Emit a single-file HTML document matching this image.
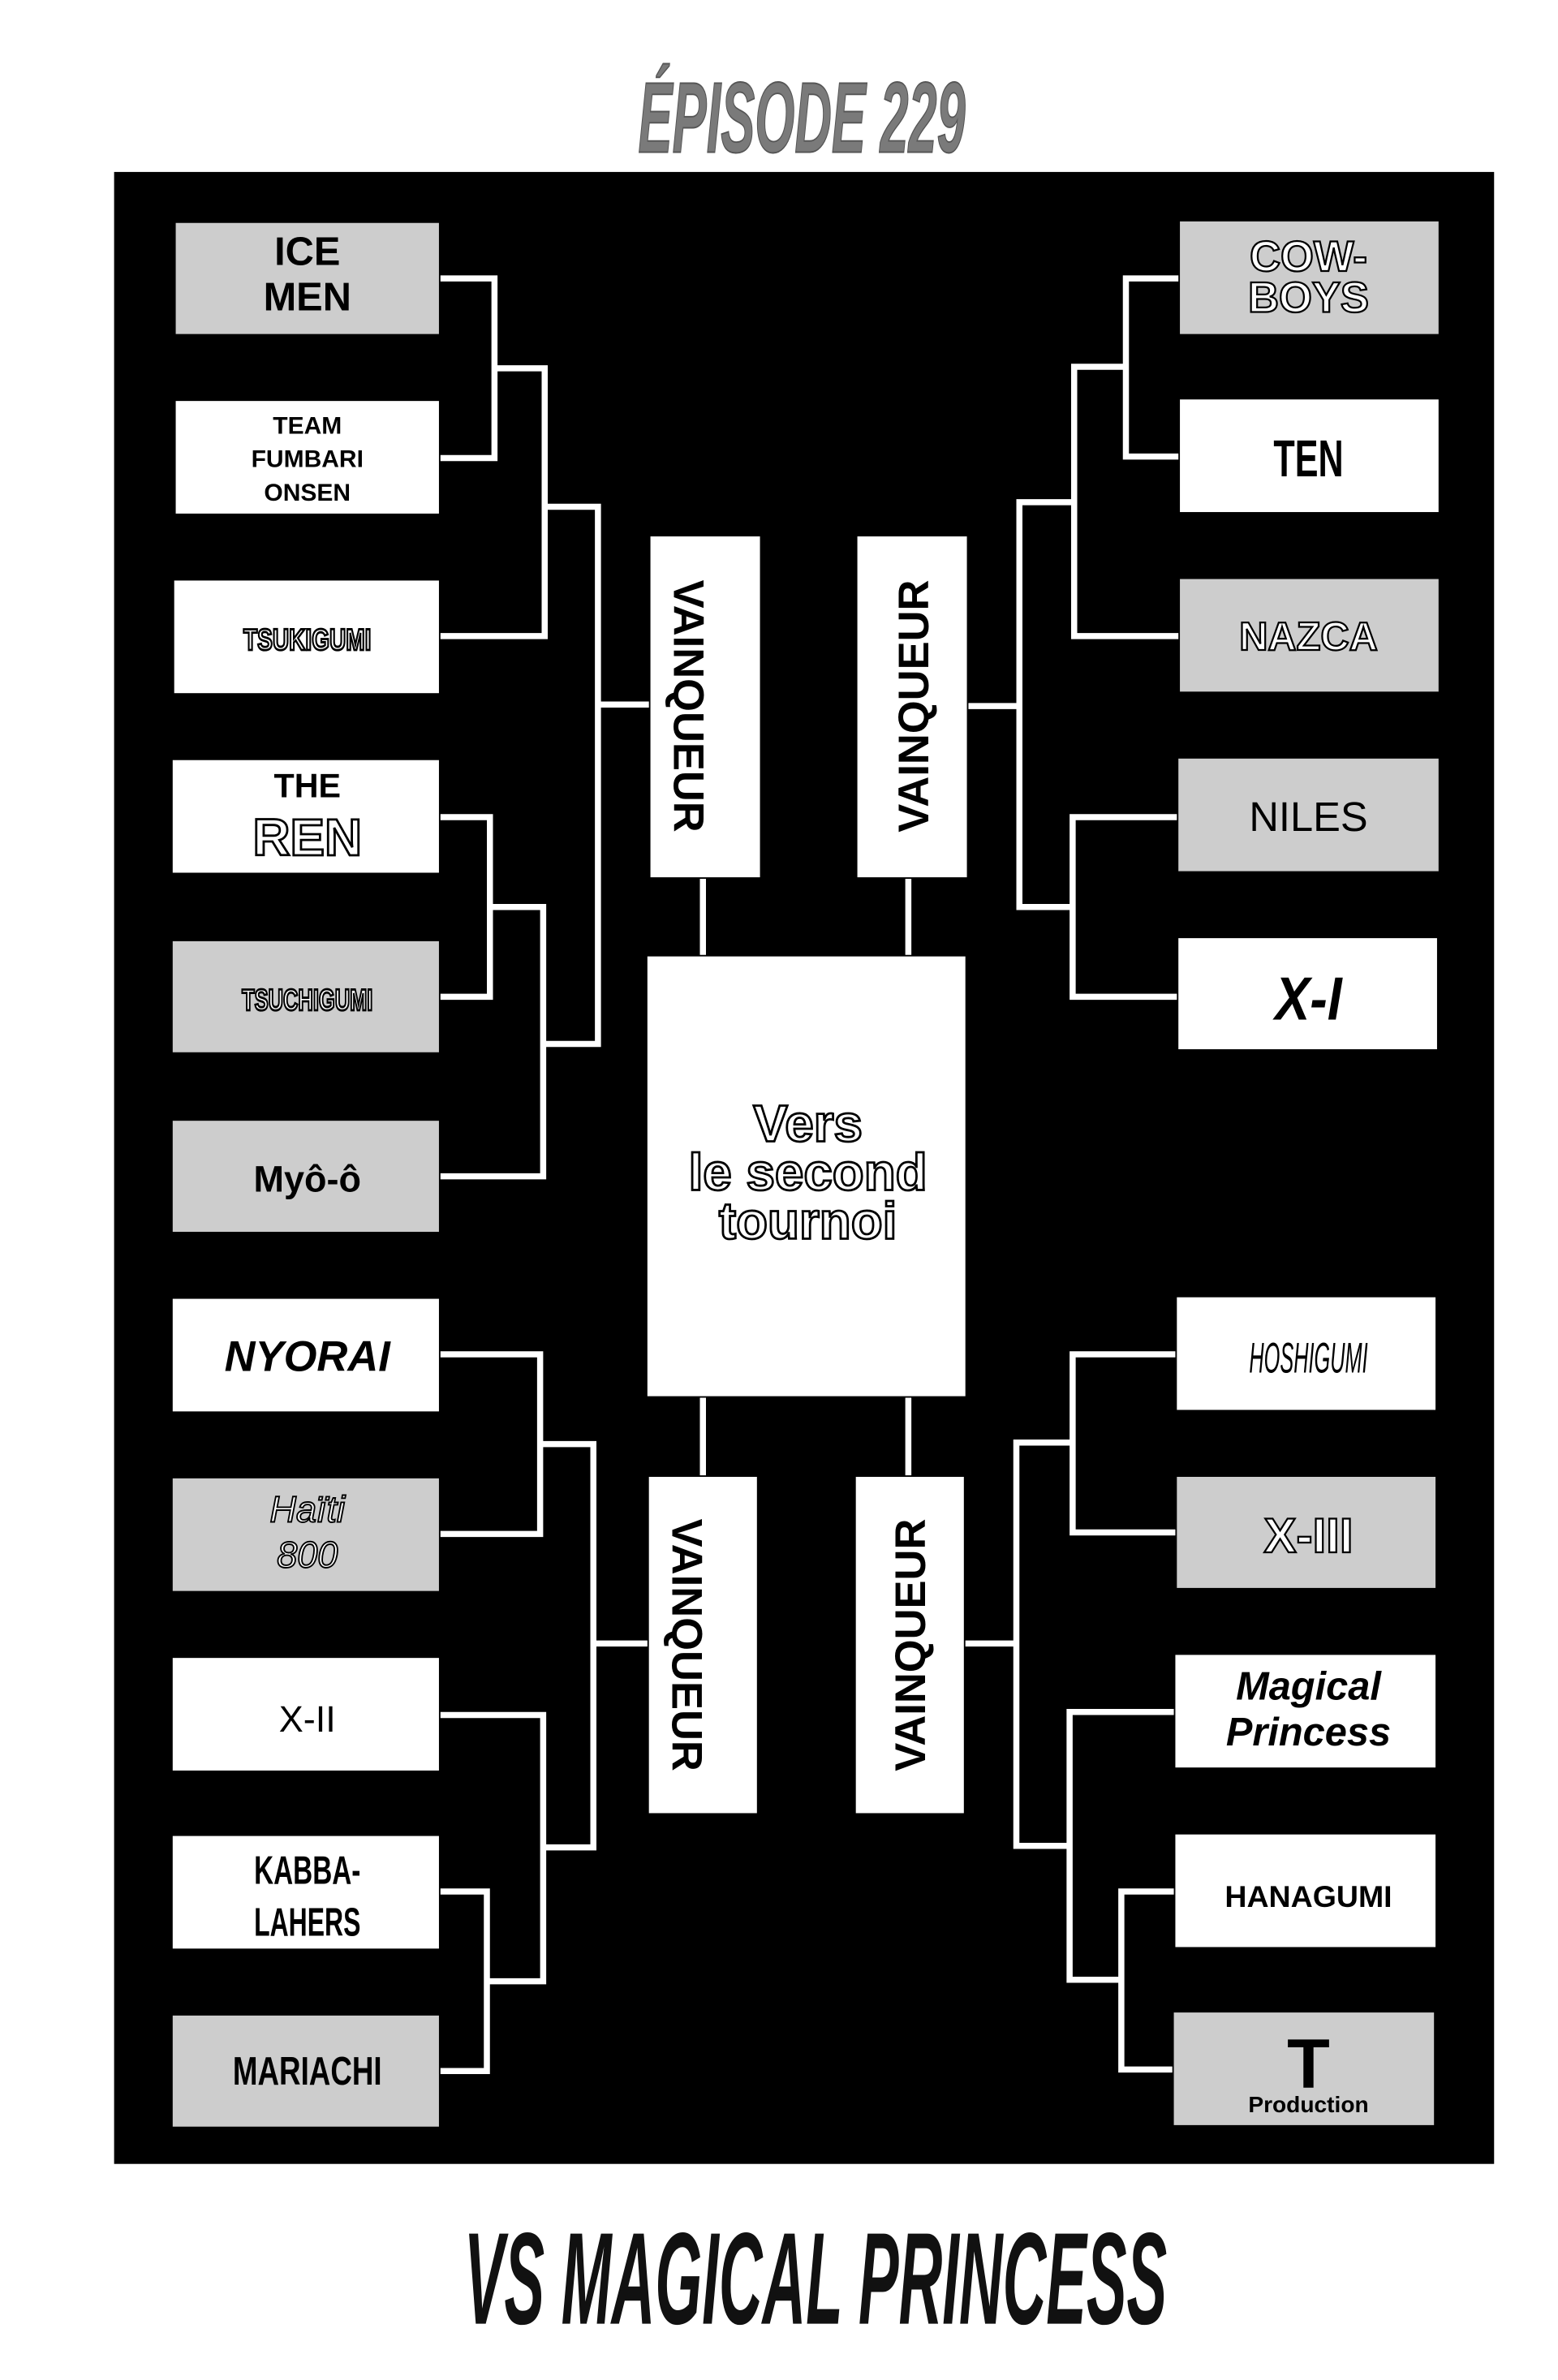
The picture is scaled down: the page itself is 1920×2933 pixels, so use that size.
<!DOCTYPE html>
<html><head><meta charset="utf-8"><style>
html,body{margin:0;padding:0;background:#fff;}
svg{display:block;}
text{font-family:"Liberation Sans",sans-serif;}
</style></head><body>
<svg width="1920" height="2933" viewBox="0 0 1024 1564" preserveAspectRatio="none" xmlns="http://www.w3.org/2000/svg">
<rect x="0" y="0" width="1024" height="1564" fill="#fff"/>
<text x="527" y="100" text-anchor="middle" font-size="66" font-weight="bold" font-style="italic" fill="#7a7a7a" stroke="#555" stroke-width="1" textLength="215" lengthAdjust="spacingAndGlyphs">ÉPISODE 229</text>
<rect x="75" y="113" width="907" height="1309" fill="#000"/>
<g stroke="#fff" stroke-width="4" fill="none">
<polyline points="289,183 325,183 325,301 289,301"/>
<polyline points="325,242 358,242 358,418 289,418"/>
<polyline points="358,333 393,333 393,686 357,686"/>
<polyline points="289,537 322,537 322,655 289,655"/>
<polyline points="322,596 357,596 357,773 289,773"/>
<line x1="393" y1="463" x2="427" y2="463"/>
<polyline points="289,890 355,890 355,1008 289,1008"/>
<polyline points="355,949 390,949 390,1214 357,1214"/>
<polyline points="289,1127 357,1127 357,1302 320,1302"/>
<polyline points="289,1243 320,1243 320,1361 289,1361"/>
<line x1="390" y1="1080" x2="426" y2="1080"/>
<polyline points="775,183 740,183 740,300 775,300"/>
<polyline points="740,241 706,241 706,418 775,418"/>
<polyline points="706,330 670,330 670,596 705,596"/>
<polyline points="775,537 705,537 705,655 775,655"/>
<line x1="670" y1="464" x2="636" y2="464"/>
<polyline points="773,890 705,890 705,1007 773,1007"/>
<polyline points="705,948 668,948 668,1213 703,1213"/>
<polyline points="773,1125 703,1125 703,1301 737,1301"/>
<polyline points="773,1243 737,1243 737,1360 773,1360"/>
<line x1="668" y1="1080" x2="634" y2="1080"/>
<line x1="462" y1="577" x2="462" y2="628"/>
<line x1="597" y1="577" x2="597" y2="628"/>
<line x1="462" y1="918" x2="462" y2="970"/>
<line x1="597" y1="918" x2="597" y2="970"/>
</g>
<g stroke="#000" stroke-width="1">
<rect x="115" y="146" width="174" height="74" fill="#cdcdcd"/>
<rect x="115" y="263" width="174" height="75" fill="#fff"/>
<rect x="114" y="381" width="175" height="75" fill="#fff"/>
<rect x="113" y="499" width="176" height="75" fill="#fff"/>
<rect x="113" y="618" width="176" height="74" fill="#cdcdcd"/>
<rect x="113" y="736" width="176" height="74" fill="#cdcdcd"/>
<rect x="113" y="853" width="176" height="75" fill="#fff"/>
<rect x="113" y="971" width="176" height="75" fill="#cdcdcd"/>
<rect x="113" y="1089" width="176" height="75" fill="#fff"/>
<rect x="113" y="1206" width="176" height="75" fill="#fff"/>
<rect x="113" y="1324" width="176" height="74" fill="#cdcdcd"/>
<rect x="775" y="145" width="171" height="75" fill="#cdcdcd"/>
<rect x="775" y="262" width="171" height="75" fill="#fff"/>
<rect x="775" y="380" width="171" height="75" fill="#cdcdcd"/>
<rect x="774" y="498" width="172" height="75" fill="#cdcdcd"/>
<rect x="774" y="616" width="171" height="74" fill="#fff"/>
<rect x="773" y="852" width="171" height="75" fill="#fff"/>
<rect x="773" y="970" width="171" height="74" fill="#cdcdcd"/>
<rect x="772" y="1087" width="172" height="75" fill="#fff"/>
<rect x="772" y="1205" width="172" height="75" fill="#fff"/>
<rect x="771" y="1322" width="172" height="75" fill="#cdcdcd"/>
<rect x="427" y="352" width="73" height="225" fill="#fff"/>
<rect x="563" y="352" width="73" height="225" fill="#fff"/>
<rect x="426" y="970" width="72" height="222" fill="#fff"/>
<rect x="562" y="970" width="72" height="222" fill="#fff"/>
<rect x="425" y="628" width="210" height="290" fill="#fff"/>
</g>
<g font-weight="bold" fill="#000" text-anchor="middle">
<text x="202" y="174" font-size="26">ICE</text>
<text x="202" y="204" font-size="26">MEN</text>
<text x="202" y="285" font-size="16">TEAM</text>
<text x="202" y="307" font-size="16">FUMBARI</text>
<text x="202" y="329" font-size="16">ONSEN</text>
<text x="202" y="427" font-size="20" fill="#fff" stroke="#000" stroke-width="1.5" textLength="84" lengthAdjust="spacingAndGlyphs">TSUKIGUMI</text>
<text x="202" y="524" font-size="22">THE</text>
<text x="202" y="562" font-size="34" fill="#fff" stroke="#000" stroke-width="1.5">REN</text>
<text x="202" y="664" font-size="20" fill="#fff" stroke="#000" stroke-width="1.5" textLength="86" lengthAdjust="spacingAndGlyphs">TSUCHIGUMI</text>
<text x="202" y="783" font-size="24">Myô-ô</text>
<text x="202" y="901" font-size="28" font-style="italic">NYORAI</text>
<text x="202" y="1000" font-size="24" font-style="italic" font-weight="normal" fill="#fff" stroke="#000" stroke-width="1">Haïti</text>
<text x="202" y="1030" font-size="24" font-style="italic" font-weight="normal" fill="#fff" stroke="#000" stroke-width="1">800</text>
<text x="202" y="1138" font-size="24" font-weight="normal" font-family="Liberation Mono">X-II</text>
<text x="202" y="1238" font-size="26" textLength="70" lengthAdjust="spacingAndGlyphs">KABBA-</text>
<text x="202" y="1272" font-size="26" textLength="70" lengthAdjust="spacingAndGlyphs">LAHERS</text>
<text x="202" y="1370" font-size="26" textLength="98" lengthAdjust="spacingAndGlyphs">MARIACHI</text>
<text x="860" y="178" font-size="28" font-family="Liberation Serif" fill="#fff" stroke="#000" stroke-width="1.2">COW-</text>
<text x="860" y="205" font-size="28" font-family="Liberation Serif" fill="#fff" stroke="#000" stroke-width="1.2">BOYS</text>
<text x="860" y="313" font-size="34" textLength="46" lengthAdjust="spacingAndGlyphs">TEN</text>
<text x="860" y="427" font-size="26" fill="#fff" stroke="#000" stroke-width="1.2">NAZCA</text>
<text x="860" y="546" font-size="27" font-weight="normal">NILES</text>
<text x="860" y="670" font-size="40" font-style="italic" textLength="44" lengthAdjust="spacingAndGlyphs">X-I</text>
<text x="860" y="902" font-size="28" font-style="italic" font-weight="normal" textLength="78" lengthAdjust="spacingAndGlyphs">HOSHIGUMI</text>
<text x="860" y="1020" font-size="32" font-family="Liberation Serif" fill="#fff" stroke="#000" stroke-width="1.2">X-III</text>
<text x="860" y="1117" font-size="26" font-family="Liberation Serif" font-style="italic">Magical</text>
<text x="860" y="1147" font-size="26" font-family="Liberation Serif" font-style="italic">Princess</text>
<text x="860" y="1253" font-size="20">HANAGUMI</text>
<text x="860" y="1372" font-size="46" font-family="Liberation Serif">T</text>
<text x="860" y="1388" font-size="15" font-family="Liberation Mono">Production</text>
<text x="531" y="750" font-size="34" fill="#fff" stroke="#000" stroke-width="1.5">Vers</text>
<text x="531" y="782" font-size="34" fill="#fff" stroke="#000" stroke-width="1.5">le second</text>
<text x="531" y="814" font-size="34" fill="#fff" stroke="#000" stroke-width="1.5">tournoi</text>
<text transform="translate(453,464) rotate(90)" font-size="28" dy="10">VAINQUEUR</text>
<text transform="translate(600,464) rotate(-90)" font-size="28" dy="10">VAINQUEUR</text>
<text transform="translate(452,1081) rotate(90)" font-size="28" dy="10">VAINQUEUR</text>
<text transform="translate(598,1081) rotate(-90)" font-size="28" dy="10">VAINQUEUR</text>
</g>
<text x="536" y="1527" text-anchor="middle" font-size="86" font-weight="bold" font-style="italic" fill="#111" textLength="462" lengthAdjust="spacingAndGlyphs">VS MAGICAL PRINCESS</text>
</svg>
</body></html>
